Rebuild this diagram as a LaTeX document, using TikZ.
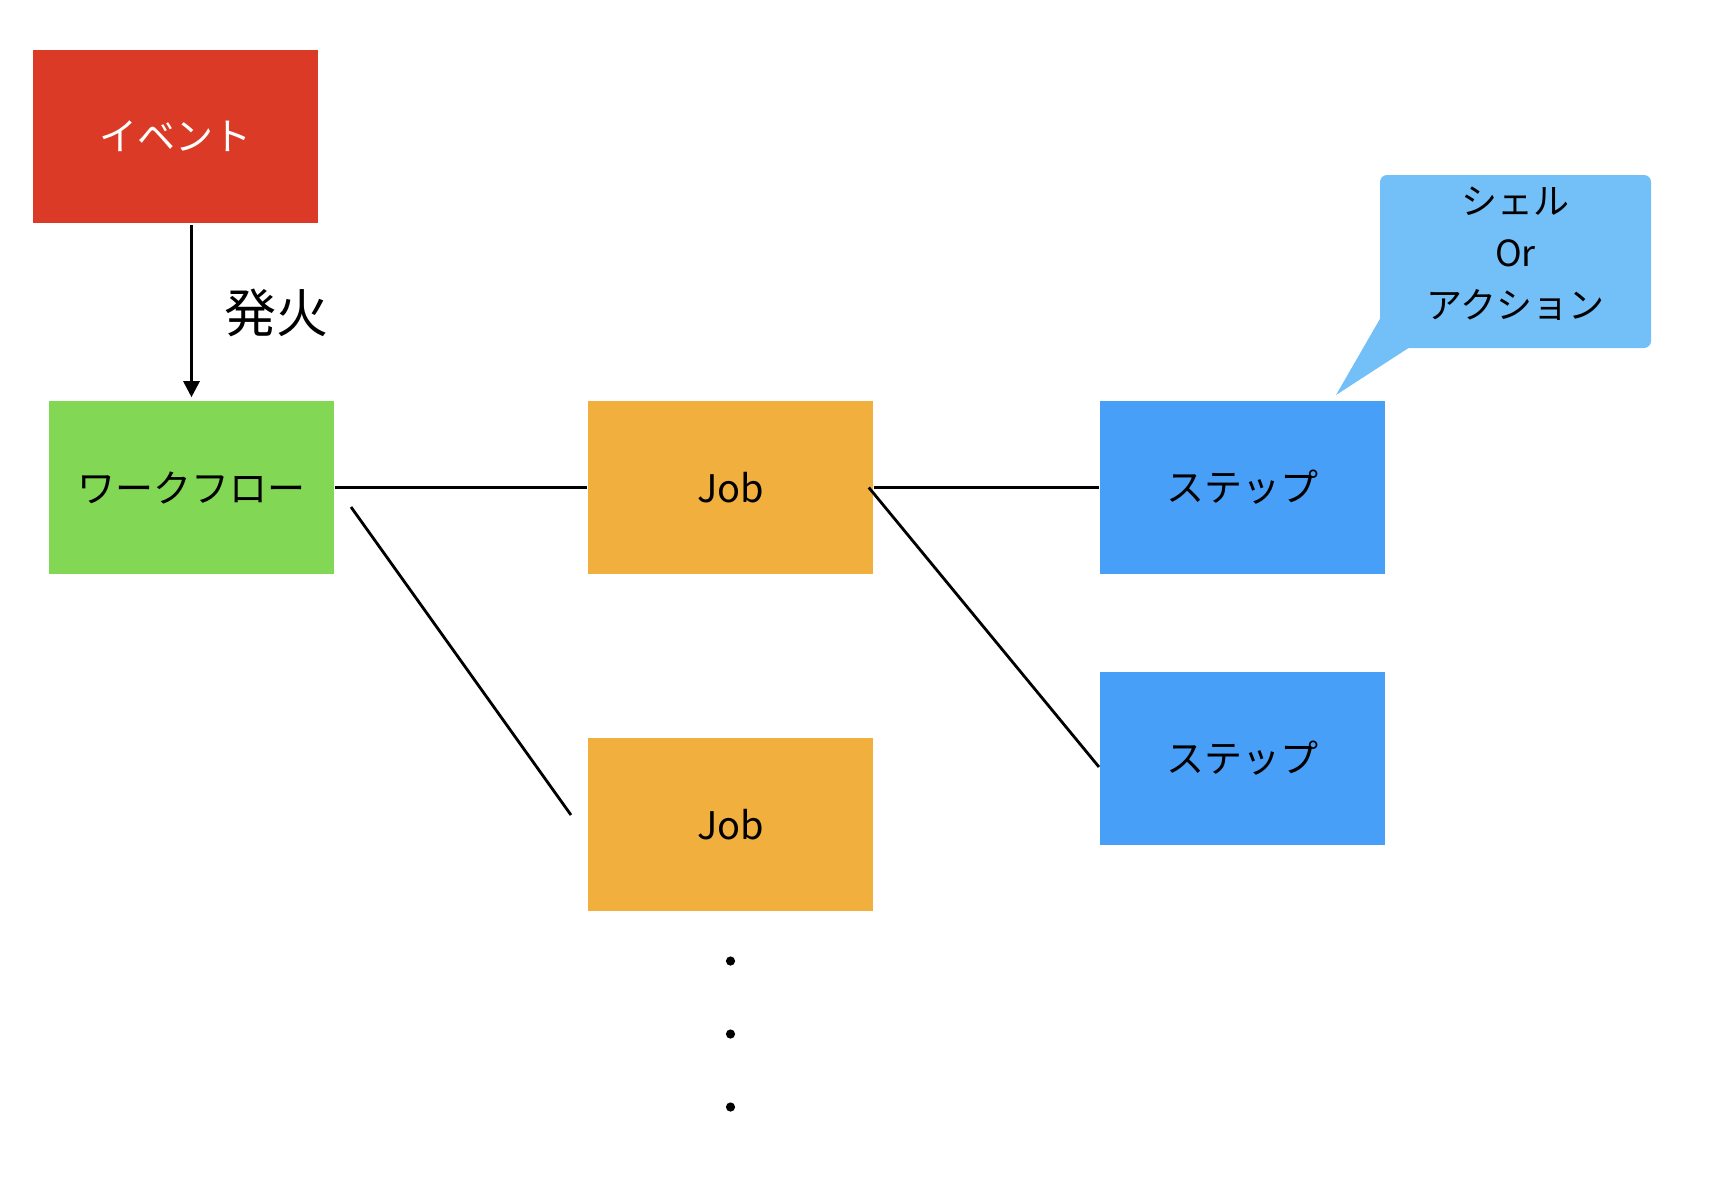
\documentclass[tikz,border=0pt]{standalone}
\usepackage{fontspec}
\newfontfamily\jpfont{Noto Sans CJK JP}
\usepackage{tikz}
\usetikzlibrary{arrows.meta, positioning, calc}
\usepackage{xcolor}
\definecolor{eventred}{RGB}{219,59,38}
\definecolor{flowgreen}{RGB}{130,215,84}
\definecolor{joborange}{RGB}{241,176,61}
\definecolor{stepblue}{RGB}{72,159,248}
\definecolor{calloutblue}{RGB}{115,191,248}

\begin{document}
\begin{tikzpicture}[x=0.5pt, y=-0.5pt, thick,
    box/.style={minimum width=142.5pt, minimum height=86.5pt, inner sep=0pt,
                font=\jpfont\fontsize{19pt}{23pt}\selectfont},
    link/.style={line width=1.4pt}]
    \useasboundingbox (0, 0) rectangle (1722, 1180);

    % Event
    \node[box, fill=eventred, text=white] (event) at (175, 136) {イベント};

    % Workflow
    \node[box, fill=flowgreen] (flow) at (191.5, 487.5) {ワークフロー};
    \draw[link, -{Triangle[length=8pt, width=8pt]}, shorten <=1pt, shorten >=1.5pt]
        (flow.north |- event.south) -- (flow.north);
    \node[font=\jpfont\fontsize{26pt}{30pt}\selectfont] (fire) at (276, 313) {発火};

    % Jobs
    \node[box, fill=joborange] (job1) at (730.5, 487.5) {Job};
    \node[box, fill=joborange] (job2) at (730.5, 824.5) {Job};
    \draw[link] (flow.east) -- (job1.west);
    \coordinate (flowtail) at (351, 507);
    \coordinate (jobtail) at (571, 815);
    \draw[link] (flowtail) -- (jobtail);
    \foreach \y in {961, 1034, 1107}
        \fill (730.5, \y) circle (2.3pt);

    % Steps
    \node[box, fill=stepblue] (step1) at (1242, 487.5) {ステップ};
    \node[box, fill=stepblue] (step2) at (1242, 758.5) {ステップ};
    \draw[link] (job1.east) -- (step1.west);
    \coordinate (steptail) at (1099, 767);
    \draw[link] ($(job1.east)+(-5, 0)$) -- (steptail);

    % Callout
    \fill[calloutblue, rounded corners=3.5pt] (1380, 175) rectangle (1651, 348);
    \fill[calloutblue] (1381, 317) -- (1336, 395) -- (1410, 347) -- cycle;
    \node[align=center, inner sep=0pt, font=\jpfont\fontsize{18pt}{26pt}\selectfont]
        (callout) at (1515.5, 254) {シェル\\Or\\アクション};
\end{tikzpicture}
\end{document}
